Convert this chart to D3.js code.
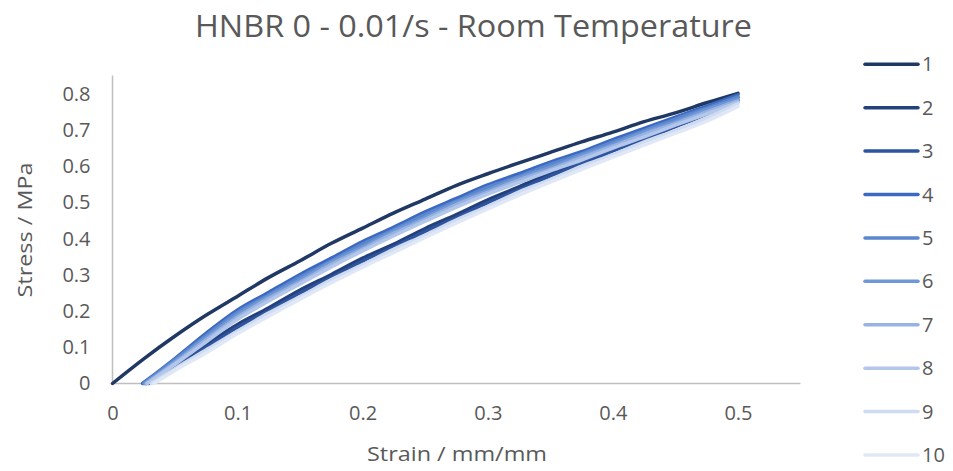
<!DOCTYPE html>
<html>
<head>
<meta charset="utf-8">
<script src="https://cdn.jsdelivr.net/npm/d3@7"></script>
<style>
  html, body { margin: 0; padding: 0; background: #fff; }
  svg { display: block; font-family: "Open Sans", "Noto Sans", sans-serif; }
</style>
</head>
<body>
<svg id="chart" width="953" height="471"></svg>
<script>
// Tensile loading curves, HNBR 0 at 0.01/s, room temperature.
const strainGrid = [0.025, 0.05, 0.075, 0.1, 0.125, 0.15, 0.175, 0.2, 0.225, 0.25,
                    0.275, 0.3, 0.325, 0.35, 0.375, 0.4, 0.425, 0.45, 0.475, 0.5];

// Strain at which each specimen starts carrying load (stress = 0)
const onset = [0, 0.027, 0.029, 0.024, 0.025, 0.026, 0.027, 0.028, 0.031, 0.033];

// Stress (MPa) per specimen at each strainGrid value
const stress1  = [0.068, 0.131, 0.189, 0.241, 0.293, 0.339, 0.387, 0.429, 0.471, 0.509, 0.547, 0.579, 0.609, 0.638, 0.667, 0.694, 0.723, 0.747, 0.775, 0.801];
const stress2  = [null, 0.050, 0.108, 0.163, 0.209, 0.258, 0.301, 0.346, 0.385, 0.428, 0.466, 0.507, 0.543, 0.581, 0.615, 0.651, 0.686, 0.721, 0.756, 0.790];
const stress3  = [null, 0.045, 0.100, 0.155, 0.201, 0.250, 0.293, 0.338, 0.377, 0.420, 0.458, 0.499, 0.535, 0.573, 0.606, 0.642, 0.675, 0.709, 0.743, 0.782];
const stress4  = [null, 0.069, 0.139, 0.203, 0.252, 0.301, 0.346, 0.392, 0.432, 0.474, 0.511, 0.548, 0.579, 0.611, 0.640, 0.673, 0.704, 0.735, 0.766, 0.797];
const stress5  = [null, 0.066, 0.133, 0.197, 0.245, 0.294, 0.339, 0.385, 0.425, 0.467, 0.504, 0.542, 0.572, 0.605, 0.634, 0.667, 0.698, 0.730, 0.760, 0.791];
const stress6  = [null, 0.061, 0.127, 0.190, 0.241, 0.286, 0.335, 0.377, 0.421, 0.459, 0.500, 0.534, 0.568, 0.597, 0.630, 0.660, 0.694, 0.723, 0.756, 0.785];
const stress7  = [null, 0.057, 0.121, 0.183, 0.235, 0.280, 0.329, 0.371, 0.415, 0.453, 0.494, 0.528, 0.562, 0.591, 0.624, 0.655, 0.688, 0.718, 0.750, 0.780];
const stress8  = [null, 0.053, 0.115, 0.177, 0.228, 0.275, 0.322, 0.366, 0.408, 0.448, 0.487, 0.523, 0.555, 0.587, 0.617, 0.650, 0.681, 0.713, 0.744, 0.776];
const stress9  = [null, 0.041, 0.093, 0.145, 0.195, 0.240, 0.287, 0.328, 0.371, 0.410, 0.452, 0.489, 0.529, 0.563, 0.600, 0.632, 0.667, 0.698, 0.733, 0.772];
const stress10 = [null, 0.036, 0.085, 0.138, 0.186, 0.233, 0.278, 0.321, 0.362, 0.403, 0.443, 0.482, 0.520, 0.556, 0.591, 0.625, 0.658, 0.691, 0.724, 0.765];

const seriesNames = ["1", "2", "3", "4", "5", "6", "7", "8", "9", "10"];
const seriesColors = ["#203864", "#24417c", "#2e54a0", "#3b68c0", "#5a86ce", "#7097d6",
                      "#98b3e2", "#b3c7eb", "#cfdbf1", "#e0e8f7"];
const xTicks = [0, 0.1, 0.2, 0.3, 0.4, 0.5];
const yTicks = [0, 0.1, 0.2, 0.3, 0.4, 0.5, 0.6, 0.7, 0.8];

const stressSets = [stress1, stress2, stress3, stress4, stress5, stress6, stress7, stress8, stress9, stress10];

const svg = d3.select("#chart");
const textColor = "#595959";
const axisColor = "#bfbfbf";

const x = d3.scaleLinear().domain([0, 0.55]).range([112.5, 800.5]);
const y = d3.scaleLinear().domain([0, 0.85]).range([383.5, 75.6]);

// Title
svg.append("text")
  .attr("x", 473.5).attr("y", 37)
  .attr("text-anchor", "middle")
  .attr("font-size", 31)
  .attr("fill", textColor)
  .attr("textLength", 557)
  .attr("lengthAdjust", "spacingAndGlyphs")
  .text("HNBR 0 - 0.01/s - Room Temperature");

// Axis lines
svg.append("line")
  .attr("x1", x(0)).attr("x2", x(0))
  .attr("y1", y.range()[1]).attr("y2", y(0))
  .attr("stroke", axisColor).attr("stroke-width", 1.5);
svg.append("line")
  .attr("x1", x(0)).attr("x2", x.range()[1])
  .attr("y1", y(0)).attr("y2", y(0))
  .attr("stroke", axisColor).attr("stroke-width", 1.5);

// Tick labels
const yAxis = d3.axisLeft(y).tickValues(yTicks).tickSize(0).tickPadding(22)
  .tickFormat(d => d3.format("")(+d.toFixed(1)));
const gy = svg.append("g").attr("transform", `translate(${x(0)},0)`).call(yAxis);
gy.select(".domain").remove();
gy.selectAll("text").attr("font-size", 20).attr("fill", textColor)
  .attr("font-family", "'Open Sans', sans-serif");

const xAxis = d3.axisBottom(x).tickValues(xTicks).tickSize(0).tickPadding(22)
  .tickFormat(d => d3.format("")(+d.toFixed(1)));
const gx = svg.append("g").attr("transform", `translate(0,${y(0)})`).call(xAxis);
gx.select(".domain").remove();
gx.selectAll("text").attr("font-size", 20).attr("fill", textColor)
  .attr("font-family", "'Open Sans', sans-serif");

// Axis titles
svg.append("text")
  .attr("transform", "translate(32,230) rotate(-90)")
  .attr("text-anchor", "middle")
  .attr("font-size", 20).attr("fill", textColor)
  .attr("textLength", 135).attr("lengthAdjust", "spacingAndGlyphs")
  .text("Stress / MPa");
svg.append("text")
  .attr("x", 457).attr("y", 461)
  .attr("text-anchor", "middle")
  .attr("font-size", 20).attr("fill", textColor)
  .attr("textLength", 180).attr("lengthAdjust", "spacingAndGlyphs")
  .text("Strain / mm/mm");

// Curves
const line = d3.line()
  .x(d => x(d[0])).y(d => y(d[1]))
  .curve(d3.curveMonotoneX);

const curves = stressSets.map((vals, i) => {
  const pts = [[onset[i], 0]];
  strainGrid.forEach((s, j) => {
    if (vals[j] != null && s > onset[i]) pts.push([s, vals[j]]);
  });
  return pts;
});

svg.append("g").selectAll("path")
  .data(curves)
  .join("path")
  .attr("d", line)
  .attr("fill", "none")
  .attr("stroke", (d, i) => seriesColors[i])
  .attr("stroke-width", 3.5)
  .attr("stroke-linecap", "round")
  .attr("stroke-linejoin", "round");

// Legend
const legend = svg.append("g");
const rowY = d3.scaleLinear().domain([0, 9]).range([64.3, 455]);
seriesNames.forEach((name, i) => {
  legend.append("line")
    .attr("x1", 865).attr("x2", 918)
    .attr("y1", rowY(i)).attr("y2", rowY(i))
    .attr("stroke", seriesColors[i]).attr("stroke-width", 3.5)
    .attr("stroke-linecap", "round");
  legend.append("text")
    .attr("x", 922).attr("y", rowY(i))
    .attr("dy", "0.35em")
    .attr("font-size", 20).attr("fill", textColor)
    .text(name);
});
</script>
</body>
</html>
